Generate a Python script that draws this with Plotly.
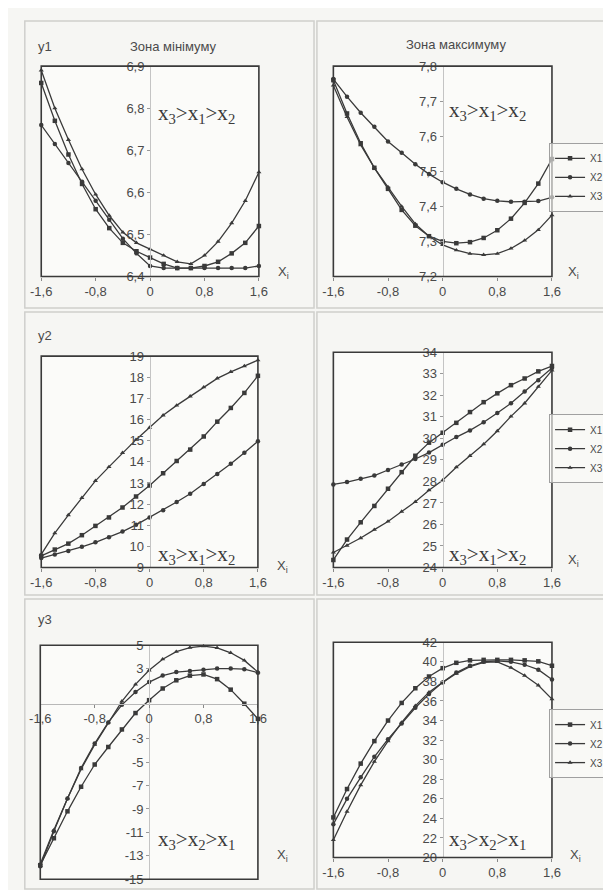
import plotly.graph_objects as go

W, H = 611, 890

# ---------------- data ----------------
x_vals = [-1.6, -1.4, -1.2, -1.0, -0.8, -0.6, -0.4, -0.2, 0.0, 0.2, 0.4, 0.6, 0.8, 1.0, 1.2, 1.4, 1.6]
series_names = ["X1", "X2", "X3"]

y1_min_X1 = [6.86, 6.77, 6.69, 6.62, 6.56, 6.515, 6.48, 6.46, 6.445, 6.43, 6.42, 6.42, 6.425, 6.435, 6.455, 6.48, 6.52]
y1_min_X2 = [6.76, 6.715, 6.67, 6.625, 6.58, 6.535, 6.49, 6.455, 6.425, 6.42, 6.42, 6.42, 6.42, 6.42, 6.42, 6.42, 6.425]
y1_min_X3 = [6.89, 6.80, 6.725, 6.655, 6.595, 6.545, 6.505, 6.48, 6.465, 6.45, 6.435, 6.43, 6.45, 6.483, 6.527, 6.58, 6.648]

y1_max_X1 = [7.76, 7.665, 7.58, 7.51, 7.45, 7.39, 7.345, 7.315, 7.30, 7.295, 7.298, 7.31, 7.332, 7.365, 7.41, 7.465, 7.535]
y1_max_X2 = [7.763, 7.713, 7.667, 7.627, 7.585, 7.553, 7.52, 7.492, 7.469, 7.45, 7.434, 7.422, 7.416, 7.413, 7.413, 7.415, 7.426]
y1_max_X3 = [7.745, 7.655, 7.575, 7.51, 7.455, 7.40, 7.35, 7.315, 7.29, 7.275, 7.265, 7.262, 7.265, 7.28, 7.303, 7.333, 7.375]

y2_min_X1 = [9.55, 9.85, 10.13, 10.53, 10.97, 11.37, 11.84, 12.36, 12.88, 13.46, 14.04, 14.58, 15.2, 15.9, 16.55, 17.26, 18.07]
y2_min_X2 = [9.45, 9.62, 9.78, 9.98, 10.19, 10.43, 10.7, 11.02, 11.37, 11.71, 12.1, 12.49, 12.95, 13.42, 13.91, 14.43, 14.97]
y2_min_X3 = [9.62, 10.63, 11.48, 12.3, 13.1, 13.76, 14.43, 15.05, 15.62, 16.2, 16.67, 17.1, 17.53, 17.95, 18.26, 18.53, 18.81]

y2_max_X1 = [24.35, 25.3, 26.1, 26.86, 27.66, 28.43, 29.19, 29.8, 30.26, 30.72, 31.22, 31.68, 32.09, 32.47, 32.78, 33.11, 33.36]
y2_max_X2 = [27.86, 27.97, 28.12, 28.27, 28.53, 28.78, 29.04, 29.34, 29.7, 30.06, 30.37, 30.75, 31.18, 31.63, 32.17, 32.7, 33.27]
y2_max_X3 = [24.7, 25.02, 25.37, 25.76, 26.14, 26.6, 27.05, 27.59, 28.05, 28.66, 29.19, 29.73, 30.34, 31.02, 31.63, 32.4, 33.16]

y3_min_X1 = [-13.8, -11.5, -9.2, -7.1, -5.2, -3.7, -2.2, -0.8, 0.3, 1.3, 2.0, 2.4, 2.5, 2.1, 1.2, 0.0, -1.3]
y3_min_X2 = [-13.9, -10.9, -8.1, -5.5, -3.4, -1.6, -0.1, 1.0, 1.85, 2.4, 2.7, 2.8, 2.9, 3.0, 3.0, 2.95, 2.65]
y3_min_X3 = [-13.7, -10.8, -8.1, -5.6, -3.5, -1.6, 0.2, 1.65, 2.85, 3.8, 4.45, 4.8, 4.92, 4.78, 4.35, 3.7, 2.7]

y3_max_X1 = [24.1, 27.0, 29.6, 31.9, 34.0, 35.8, 37.3, 38.5, 39.35, 39.9, 40.15, 40.2, 40.2, 40.2, 40.15, 40.05, 39.6]
y3_max_X2 = [23.4, 26.0, 28.2, 30.3, 32.1, 33.7, 35.3, 36.7, 37.9, 38.9, 39.6, 40.0, 40.1, 40.0, 39.7, 39.2, 38.2]
y3_max_X3 = [21.8, 24.7, 27.4, 29.8, 31.9, 33.8, 35.5, 36.9, 37.9, 38.8, 39.5, 39.95, 40.0, 39.4, 38.6, 37.6, 36.2]

x_tick_vals = [-1.6, -0.8, 0, 0.8, 1.6]
x_tick_text = ["-1,6", "-0,8", "0", "0,8", "1,6"]

y1_min_ticks = [6.4, 6.5, 6.6, 6.7, 6.8, 6.9]
y1_max_ticks = [7.2, 7.3, 7.4, 7.5, 7.6, 7.7, 7.8]
y2_min_ticks = [9, 10, 11, 12, 13, 14, 15, 16, 17, 18, 19]
y2_max_ticks = [24, 25, 26, 27, 28, 29, 30, 31, 32, 33, 34]
y3_min_ticks = [-15, -13, -11, -9, -7, -5, -3, 3, 5]
y3_max_ticks = [20, 22, 24, 26, 28, 30, 32, 34, 36, 38, 40, 42]

titles = ["Зона мінімуму", "Зона максимуму"]
row_labels = ["y1", "y2", "y3"]
rank_texts = ["x<sub>3</sub>>x<sub>1</sub>>x<sub>2</sub>",
              "x<sub>3</sub>>x<sub>1</sub>>x<sub>2</sub>",
              "x<sub>3</sub>>x<sub>2</sub>>x<sub>1</sub>"]


def fmt(v):
    return ("%g" % v).replace(".", ",")


# ---------------- layout helpers ----------------
def px(x):
    return x / W


def py(y):
    return 1 - y / H


panels = [
    dict(box=(23, 248, 52, 266), yr=(6.4, 6.9), ticks=y1_min_ticks,
         data=[y1_min_X1, y1_min_X2, y1_min_X3], legend=None),
    dict(box=(325, 551, 52, 266), yr=(7.2, 7.8), ticks=y1_max_ticks,
         data=[y1_max_X1, y1_max_X2, y1_max_X3], legend="legend"),
    dict(box=(23, 247, 347, 562), yr=(9, 19), ticks=y2_min_ticks,
         data=[y2_min_X1, y2_min_X2, y2_min_X3], legend=None),
    dict(box=(325, 551, 343, 562), yr=(24, 34), ticks=y2_max_ticks,
         data=[y2_max_X1, y2_max_X2, y2_max_X3], legend="legend2"),
    dict(box=(22, 247, 641, 879), yr=(-15, 5), ticks=y3_min_ticks,
         data=[y3_min_X1, y3_min_X2, y3_min_X3], legend=None),
    dict(box=(325, 551, 638, 857), yr=(20, 42), ticks=y3_max_ticks,
         data=[y3_max_X1, y3_max_X2, y3_max_X3], legend="legend3"),
]

markers = ["square", "circle", "triangle-up"]
LINE = "#3a3a3a"
TXT = "#4a4a4a"
FONT = "Liberation Sans, Arial, sans-serif"

fig = go.Figure()
layout = dict(
    width=W, height=H, margin=dict(l=0, r=0, t=0, b=0),
    paper_bgcolor="#f6f6f3", plot_bgcolor="#fbfbf9",
    showlegend=True, font=dict(family=FONT, color=TXT, size=12),
)
shapes = []
annotations = []

# panel frames (light grey scan borders)
for (x0, x1, y0, y1) in [(6, 305, 6, 298), (308, 611, 6, 298), (6, 305, 302, 590),
                         (308, 611, 302, 590), (6, 305, 594, 889), (308, 611, 594, 889)]:
    shapes.append(dict(type="rect", xref="paper", yref="paper", x0=px(x0), x1=px(x1),
                       y0=py(y1), y1=py(y0), line=dict(color="#cfcfcc", width=1.5),
                       layer="below"))

for i, p in enumerate(panels):
    n = i + 1
    sfx = "" if n == 1 else str(n)
    xa, ya = "x" + sfx, "y" + sfx
    bx0, bx1, by0, by1 = p["box"]
    xdom = [px(bx0), px(bx1)]
    ydom = [py(by1), py(by0)]
    center = (xdom[0] + xdom[1]) / 2

    for k in range(3):
        fig.add_trace(go.Scatter(
            x=x_vals, y=p["data"][k], mode="lines+markers", name=series_names[k],
            xaxis=xa, yaxis=ya, cliponaxis=False,
            line=dict(color=LINE, width=1.3),
            marker=dict(symbol=markers[k], size=4.5, color=LINE),
            showlegend=p["legend"] is not None,
            legend=p["legend"] if p["legend"] else "legend",
        ))

    xaxis = dict(domain=xdom, range=[-1.6, 1.6], showgrid=False, zeroline=False,
                 tickvals=x_tick_vals, ticktext=x_tick_text, ticks="outside",
                 ticklen=3, tickcolor="#888", tickfont=dict(size=13, color=TXT),
                 showline=False, fixedrange=True)
    if n == 5:
        zero_pos = ydom[0] + (0 - p["yr"][0]) / (p["yr"][1] - p["yr"][0]) * (ydom[1] - ydom[0])
        xaxis.update(anchor="free", position=zero_pos, showline=True,
                     linecolor="#b8b8b8", linewidth=1)
    else:
        xaxis.update(anchor=ya)
    yaxis = dict(domain=ydom, range=list(p["yr"]), showgrid=False, zeroline=False,
                 anchor="free", position=center, showline=True, linecolor="#c4c4c4",
                 linewidth=1, tickvals=p["ticks"], ticktext=[fmt(v) for v in p["ticks"]],
                 ticks="outside", ticklen=3, tickcolor="#999",
                 tickfont=dict(size=13, color=TXT), fixedrange=True)
    layout["xaxis" + sfx] = xaxis
    layout["yaxis" + sfx] = yaxis

    shapes.append(dict(type="rect", xref=xa + " domain", yref=ya + " domain",
                       x0=0, x1=1, y0=0, y1=1, line=dict(color=LINE, width=1.6)))


def ann(text, x, y, size=12, family=None, color=TXT, xanchor="center"):
    f = dict(size=size, color=color)
    if family:
        f["family"] = family
    annotations.append(dict(text=text, x=px(x), y=py(y), xref="paper", yref="paper",
                            xanchor=xanchor, yanchor="middle", showarrow=False, font=f))


# titles
ann(titles[0], 160, 32, size=13)
ann(titles[1], 452, 30, size=13)
# row labels
for lbl, yy in zip(row_labels, [32, 326, 615]):
    ann(lbl, 27, yy, size=13)
# Xi labels
for (xx, yy) in [(273, 262), (573, 262), (272, 561), (573, 555), (272, 855), (575, 855)]:
    ann("X<sub>i</sub>", xx, yy, size=13)
# ranking texts
rank_pos = [(142, 101, 0), (442, 98, 0), (142, 549, 1), (442, 549, 1), (142, 839, 2), (442, 839, 2)]
for (xx, yy, k) in rank_pos:
    ann(rank_texts[k], xx, yy, size=21, family="Liberation Serif, Times New Roman, serif",
        color="#3a3a3a", xanchor="left")

leg_common = dict(xanchor="left", yanchor="top", bgcolor="rgba(251,251,249,0.6)",
                  bordercolor="#a0a0a0", borderwidth=1, tracegroupgap=0, itemwidth=30,
                  font=dict(size=10, color=TXT))
layout["legend"] = dict(x=px(548), y=py(130), **leg_common)
layout["legend2"] = dict(x=px(548), y=py(406), **leg_common)
layout["legend3"] = dict(x=px(548), y=py(706), **leg_common)

layout["shapes"] = shapes
layout["annotations"] = annotations
fig.update_layout(**layout)

fig.write_html("out.html")
